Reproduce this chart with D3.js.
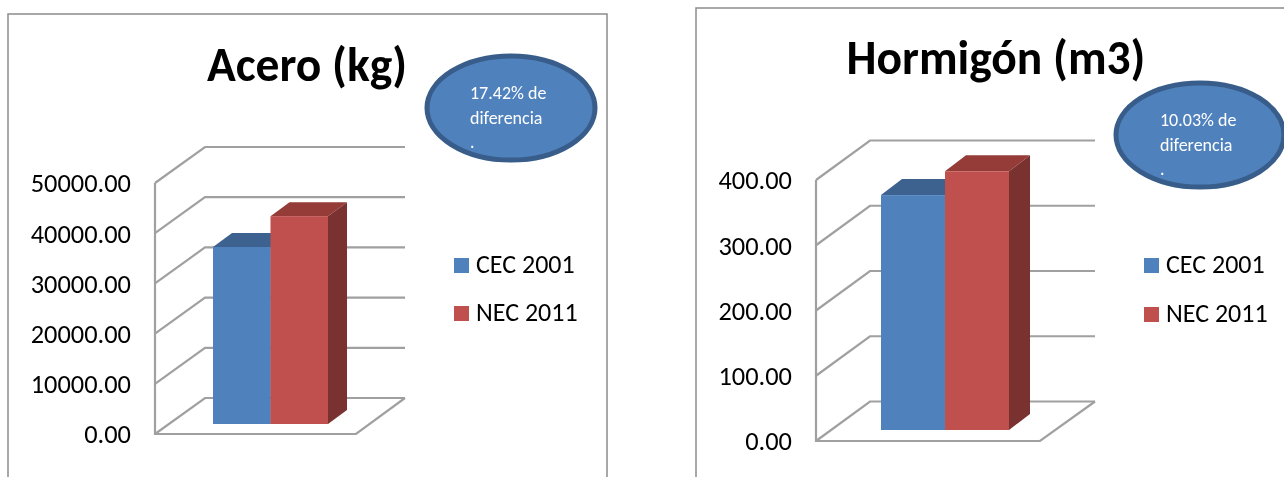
<!DOCTYPE html>
<html><head><meta charset="utf-8">
<script src="https://cdn.jsdelivr.net/npm/d3@7/dist/d3.min.js"></script>
<style>html,body{margin:0;padding:0;background:#fff;overflow:hidden}svg{display:block;filter:blur(0.45px)}text{font-family:Carlito,Lato,"Open Sans",sans-serif}</style>
</head><body><svg id="c" width="1284" height="477"></svg>
<script>
const seriesNames = ["CEC 2001","NEC 2011"];
const aceroValues = [35260,41400];
const aceroTicks = [0,10000,20000,30000,40000,50000];
const hormigonValues = [360,396.5];
const hormigonTicks = [0,100,200,300,400];
const colors = {front:["#4f81bd","#c0504d"],top:["#3e6290","#953c39"],side:["#3a5a85","#7a3230"]};
const grid = "#a0a0a0";

const svg = d3.select("#c");
function panel(o){
  const g = svg.append("g");
  const y = d3.scaleLinear().domain(o.domain).range([o.y0,o.y1]);
  const x = d3.scaleBand().domain(seriesNames).range([o.barL,o.barR]).paddingInner(0);
  g.append("path").attr("d",o.frame).attr("fill","none").attr("stroke","#8c8c8c").attr("stroke-width",1.5);
  const line = d3.line();
  o.ticks.forEach(t=>{
    const a=o.axisX, p=y(t);
    g.append("path").attr("d",line([[a,p],[a+o.dx,p-o.dy],[o.backR,p-o.dy]]))
      .attr("fill","none").attr("stroke",grid).attr("stroke-width",2.2);
  });
  g.append("path").attr("d",line([[o.axisX,y(o.domain[1])],[o.axisX,y(0)],[o.floorR,y(0)],[o.backR,y(0)-o.dy]]))
    .attr("fill","none").attr("stroke",grid).attr("stroke-width",2.2);
  const ax = d3.axisLeft(y).tickValues(o.ticks).tickFormat(d3.format(".2f")).tickSize(0).tickPadding(0);
  const axG = g.append("g").attr("transform",`translate(${o.axisX-24},0)`).call(ax);
  axG.select(".domain").remove();
  axG.selectAll("text").attr("font-size",o.tick).attr("fill","#000").attr("dy","0.34em").style("font-family","Carlito,Lato,sans-serif");
  const base = y(0)-o.barLift;
  seriesNames.forEach((s,i)=>{
    const v=o.values[i], l=x(s), w=x.bandwidth(), t=y(v)-o.barLift;
    g.append("path").attr("d",line([[l,t],[l+o.bdx,t-o.bdy],[l+w+o.bdx,t-o.bdy],[l+w,t]])+"Z").attr("fill",colors.top[i]);
    g.append("path").attr("d",line([[l+w,t],[l+w+o.bdx,t-o.bdy],[l+w+o.bdx,base-o.bdy],[l+w,base]])+"Z").attr("fill",colors.side[i]);
    g.append("rect").attr("x",l).attr("y",t).attr("width",w).attr("height",base-t).attr("fill",colors.front[i]);
  });
  g.append("text").attr("x",o.titleX).attr("y",o.titleY).attr("text-anchor","middle")
    .attr("font-size",o.titleSize).attr("font-weight",700).attr("fill","#000").text(o.title);
  seriesNames.forEach((s,i)=>{
    g.append("rect").attr("x",o.legX).attr("y",o.legY[i]).attr("width",15).attr("height",15).attr("fill",colors.front[i]);
    g.append("text").attr("x",o.legX+22).attr("y",o.legY[i]+15).attr("font-size",o.legSize).attr("fill","#000").text(s);
  });
  g.append("ellipse").attr("cx",o.ell[0]).attr("cy",o.ell[1]).attr("rx",o.ell[2]).attr("ry",o.ell[3])
    .attr("fill","#4f81bd").attr("stroke","#385d8a").attr("stroke-width",5);
  o.note.forEach((n,i)=>{
    g.append("text").attr("x",o.noteX).attr("y",o.noteY+i*24.5).attr("font-size",18).attr("fill","#fff").text(n);
  });
}
panel({title:"Acero (kg)",titleX:307,titleY:81,titleSize:47.5,values:aceroValues,ticks:aceroTicks,domain:[0,50000],
  y0:434,y1:183,axisX:155,dx:50,dy:36,backR:405,floorR:356,barL:213,barR:328,barLift:10,bdx:19,bdy:14,tick:26.4,
  frame:"M8,477V14H607V477",legX:454,legY:[258,306],legSize:26,ell:[511,108,84,52],note:["17.42% de","diferencia","."],noteX:470,noteY:99});
panel({title:"Hormigón (m3)",titleX:996,titleY:74,titleSize:47.5,values:hormigonValues,ticks:hormigonTicks,domain:[0,400],
  y0:441,y1:180,axisX:816,dx:54,dy:39.5,backR:1095,floorR:1040,barL:881,barR:1009,barLift:11,bdx:21,bdy:16,tick:26.4,
  frame:"M696,477V8H1284",legX:1144,legY:[258,307],legSize:26,ell:[1200,135,84,52],note:["10.03% de","diferencia","."],noteX:1160,noteY:126});
</script></body></html>
